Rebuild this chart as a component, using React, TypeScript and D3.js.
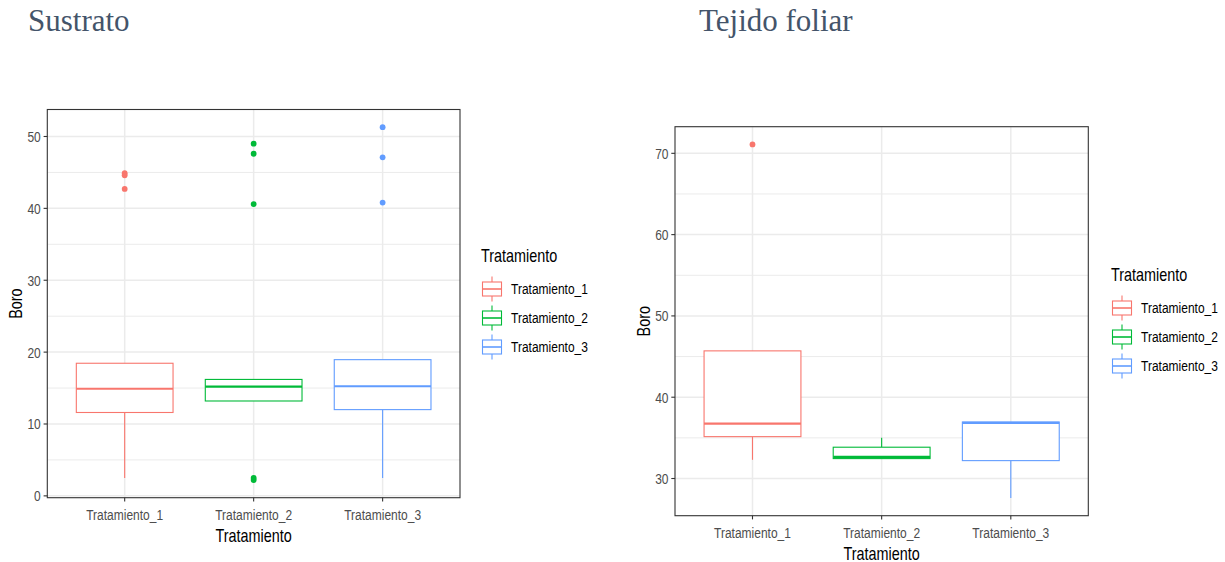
import React from "react";
import * as d3 from "d3";

// ---------- data ----------
const categories = ["Tratamiento_1", "Tratamiento_2", "Tratamiento_3"];
const colors = ["#F8766D", "#00BA38", "#619CFF"];

// Sustrato (left)
const sustratoQ1 = [11.6, 13.2, 12.0];
const sustratoMedian = [14.9, 15.2, 15.25];
const sustratoQ3 = [18.45, 16.2, 18.95];
const sustratoWhiskerLow = [2.5, 13.2, 2.5];
const sustratoWhiskerHigh = [18.45, 16.2, 18.95];
const sustratoOutliers = [
  [44.9, 44.6, 42.7],
  [49.0, 47.6, 40.6, 2.5, 2.2],
  [51.3, 47.1, 40.8],
];
const sustratoTicks = [0, 10, 20, 30, 40, 50];

// Tejido foliar (right)
const foliarQ1 = [35.15, 32.45, 32.2];
const foliarMedian = [36.75, 32.65, 36.85];
const foliarQ3 = [45.7, 33.85, 36.95];
const foliarWhiskerLow = [32.3, 32.45, 27.6];
const foliarWhiskerHigh = [45.7, 35.0, 36.95];
const foliarOutliers = [[71.1], [], []];
const foliarTicks = [30, 40, 50, 60, 70];

const SANS = "'Liberation Sans', Arial, sans-serif";
const SX = 0.8;

function NText(props: {
  x: number; y: number; size: number; fill: string; anchor?: string; rotate?: number; dy?: string; children: React.ReactNode;
}) {
  const rot = props.rotate ? ` rotate(${props.rotate})` : "";
  return (
    <text
      transform={`translate(${props.x},${props.y})${rot} scale(${SX},1)`}
      textAnchor={props.anchor || "start"}
      dy={props.dy}
      fontFamily={SANS}
      fontSize={props.size}
      fill={props.fill}
    >
      {props.children}
    </text>
  );
}

type PanelProps = {
  left: number; top: number; right: number; bottom: number;
  q1: number[]; med: number[]; q3: number[]; wl: number[]; wh: number[];
  outliers: number[][]; ticks: number[];
  legendX: number; legendY: number;
};

function Panel(p: PanelProps) {
  const all = [...p.wl, ...p.wh, ...p.outliers.flat()];
  const lo = d3.min(all) as number;
  const hi = d3.max(all) as number;
  const pad = (hi - lo) * 0.05;
  const y = d3.scaleLinear().domain([lo - pad, hi + pad]).range([p.bottom, p.top]);
  // ggplot discrete axis: 0.6 units of expansion on each side
  const x = d3.scalePoint().domain(categories).range([p.left, p.right]).padding(0.6);
  const cx = (i: number) => x(categories[i]) as number;
  const unit = x.step();
  const bw = unit * 0.75;
  const minor: number[] = [];
  const step = p.ticks[1] - p.ticks[0];
  for (let i = 0; i <= p.ticks.length; i++) {
    const v = p.ticks[0] - step / 2 + i * step;
    if (v > y.domain()[0] && v < y.domain()[1]) minor.push(v);
  }
  const midY = (p.top + p.bottom) / 2;
  const midX = (p.left + p.right) / 2;
  return (
    <g>
      {/* grid */}
      {minor.map((v) => (
        <line key={"mn" + v} x1={p.left} x2={p.right} y1={y(v)} y2={y(v)} stroke="#EBEBEB" strokeWidth={1} />
      ))}
      {p.ticks.map((v) => (
        <line key={"mj" + v} x1={p.left} x2={p.right} y1={y(v)} y2={y(v)} stroke="#EBEBEB" strokeWidth={1.5} />
      ))}
      {categories.map((c, i) => (
        <line key={"vx" + c} x1={cx(i)} x2={cx(i)} y1={p.top} y2={p.bottom} stroke="#EBEBEB" strokeWidth={1.5} />
      ))}
      {/* boxes */}
      {categories.map((c, i) => (
        <g key={"b" + c} stroke={colors[i]} fill="none">
          <line x1={cx(i)} x2={cx(i)} y1={y(p.q3[i])} y2={y(p.wh[i])} strokeWidth={1.1} />
          <line x1={cx(i)} x2={cx(i)} y1={y(p.q1[i])} y2={y(p.wl[i])} strokeWidth={1.1} />
          <rect x={cx(i) - bw / 2} width={bw} y={y(p.q3[i])} height={y(p.q1[i]) - y(p.q3[i])} fill="#fff" strokeWidth={1.1} />
          <line x1={cx(i) - bw / 2} x2={cx(i) + bw / 2} y1={y(p.med[i])} y2={y(p.med[i])} strokeWidth={2.2} />
          {p.outliers[i].map((v, k) => (
            <circle key={k} cx={cx(i)} cy={y(v)} r={2.9} fill={colors[i]} stroke="none" />
          ))}
        </g>
      ))}
      {/* border */}
      <rect x={p.left} y={p.top} width={p.right - p.left} height={p.bottom - p.top} fill="none" stroke="#333333" strokeWidth={1.1} />
      {/* y axis */}
      {p.ticks.map((v) => (
        <g key={"yt" + v}>
          <line x1={p.left - 3.7} x2={p.left} y1={y(v)} y2={y(v)} stroke="#333333" strokeWidth={1.1} />
          <NText x={p.left - 6.5} y={y(v)} dy="0.36em" anchor="end" size={15} fill="#4D4D4D">{v}</NText>
        </g>
      ))}
      {/* x axis */}
      {categories.map((c, i) => (
        <g key={"xt" + c}>
          <line x1={cx(i)} x2={cx(i)} y1={p.bottom} y2={p.bottom + 3.7} stroke="#333333" strokeWidth={1.1} />
          <NText x={cx(i)} y={p.bottom + 22} anchor="middle" size={15} fill="#4D4D4D">{c}</NText>
        </g>
      ))}
      <NText x={midX} y={p.bottom + 44} anchor="middle" size={18} fill="#000">Tratamiento</NText>
      <NText x={p.left - 25.5} y={midY} anchor="middle" rotate={-90} size={18} fill="#000">Boro</NText>
      {/* legend */}
      <NText x={p.legendX} y={p.legendY} size={18} fill="#000">Tratamiento</NText>
      {categories.map((c, i) => {
        const ry = p.legendY + 27 + i * 29;
        const kx = p.legendX + 1.5;
        return (
          <g key={"lg" + c}>
            <g stroke={colors[i]} fill="none" strokeWidth={1.1}>
              <line x1={kx + 9.5} x2={kx + 9.5} y1={ry - 12.5} y2={ry + 12.5} />
              <rect x={kx} y={ry - 7} width={19} height={14} fill="#fff" />
              <line x1={kx} x2={kx + 19} y1={ry} y2={ry} strokeWidth={1.6} />
            </g>
            <NText x={p.legendX + 30} y={ry} dy="0.36em" size={15} fill="#000">{c}</NText>
          </g>
        );
      })}
    </g>
  );
}

export default function App() {
  return (
    <svg width={1225} height={562} style={{ position: "absolute", left: 0, top: 0, background: "#fff" }}>
      <rect width={1225} height={562} fill="#fff" />
      <text x={28} y={31} fontFamily="'Liberation Serif', 'Times New Roman', serif" fontSize={31} fill="#44546A">Sustrato</text>
      <text x={699} y={31} fontFamily="'Liberation Serif', 'Times New Roman', serif" fontSize={31} fill="#44546A">Tejido foliar</text>
      <Panel left={47.3} top={109.5} right={460} bottom={497.7}
        q1={sustratoQ1} med={sustratoMedian} q3={sustratoQ3} wl={sustratoWhiskerLow} wh={sustratoWhiskerHigh}
        outliers={sustratoOutliers} ticks={sustratoTicks} legendX={481} legendY={262} />
      <Panel left={675} top={126.7} right={1088.3} bottom={515.7}
        q1={foliarQ1} med={foliarMedian} q3={foliarQ3} wl={foliarWhiskerLow} wh={foliarWhiskerHigh}
        outliers={foliarOutliers} ticks={foliarTicks} legendX={1111} legendY={281} />
    </svg>
  );
}
